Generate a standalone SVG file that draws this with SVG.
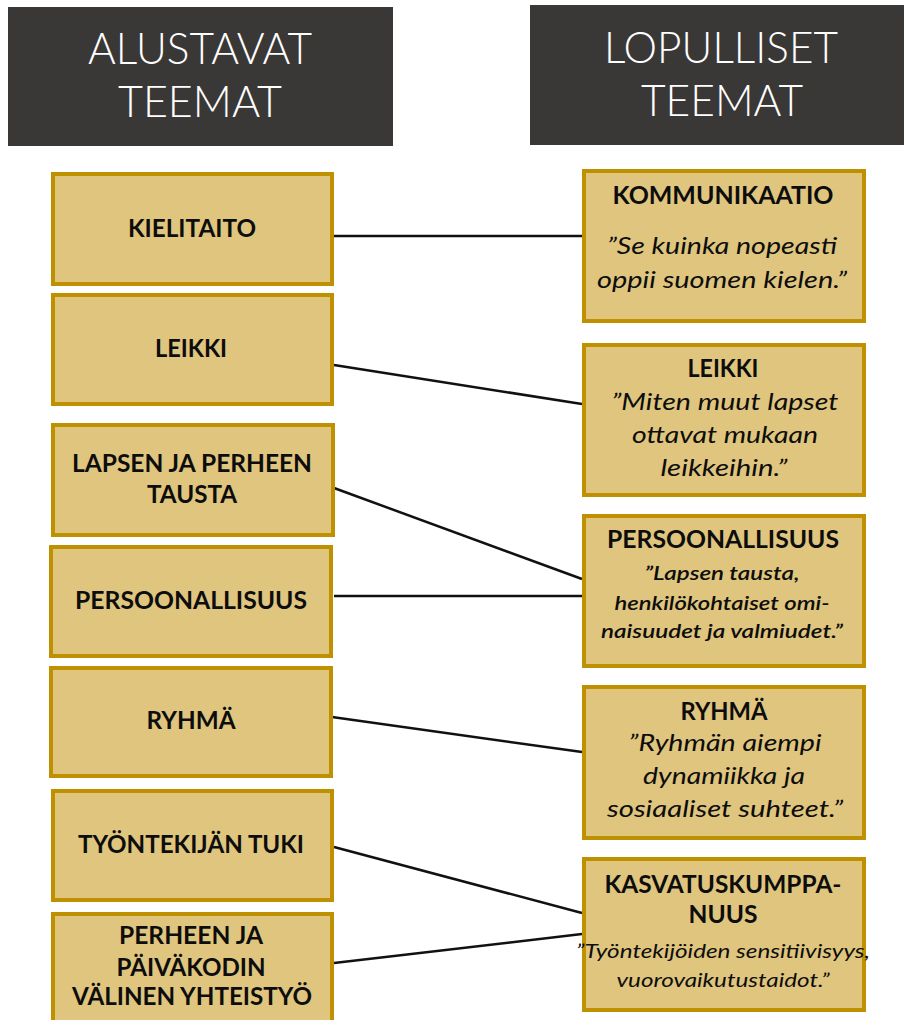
<svg xmlns="http://www.w3.org/2000/svg" width="904" height="1020" viewBox="0 0 904 1020">
<style>
.hdr{fill:#3a3836}
.hdrt{font-family:Lato,"Open Sans",sans-serif;font-weight:300;font-size:44px;fill:#ffffff;text-anchor:middle}
.box{fill:#dfc57e;stroke:#bf9000;stroke-width:4}
.b{font-family:Lato,"Open Sans",sans-serif;font-weight:700;font-size:25px;fill:#0d0d0d;text-anchor:middle}
.i{font-family:Lato,"Open Sans",sans-serif;font-style:italic;font-size:24px;fill:#0d0d0d;text-anchor:middle}
.is{font-family:Lato,"Open Sans",sans-serif;font-style:italic;font-size:20px;fill:#0d0d0d;text-anchor:middle}
.con{stroke:#111;stroke-width:2.5;fill:none}
</style>
<rect width="904" height="1020" fill="#ffffff"/>
<g id="header-left">
<rect class="hdr" x="8" y="7" width="385" height="139"/>
<text class="hdrt" x="200" y="64" textLength="224" lengthAdjust="spacingAndGlyphs">ALUSTAVAT</text>
<text class="hdrt" x="200" y="117" textLength="164" lengthAdjust="spacingAndGlyphs">TEEMAT</text>
</g>
<g id="header-right">
<rect class="hdr" x="530" y="5" width="374" height="140"/>
<text class="hdrt" x="721" y="63" textLength="234" lengthAdjust="spacingAndGlyphs">LOPULLISET</text>
<text class="hdrt" x="722" y="116" textLength="162" lengthAdjust="spacingAndGlyphs">TEEMAT</text>
</g>
<g id="connectors">
<line class="con" x1="334" y1="236" x2="582" y2="236"/>
<line class="con" x1="334" y1="365" x2="582" y2="404"/>
<line class="con" x1="334" y1="488" x2="582" y2="579"/>
<line class="con" x1="334" y1="596" x2="582" y2="596"/>
<line class="con" x1="332" y1="717" x2="582" y2="752"/>
<line class="con" x1="334" y1="847" x2="582" y2="913"/>
<line class="con" x1="334" y1="963" x2="582" y2="934"/>
</g>
<g id="kielitaito">
<rect class="box" x="53" y="174" width="279" height="110"/>
<text class="b" x="192" y="237" textLength="128" lengthAdjust="spacingAndGlyphs">KIELITAITO</text>
</g>
<g id="leikki-left">
<rect class="box" x="53" y="295" width="279" height="109"/>
<text class="b" x="191" y="357" textLength="72" lengthAdjust="spacingAndGlyphs">LEIKKI</text>
</g>
<g id="lapsen-tausta">
<rect class="box" x="53" y="425" width="280" height="110"/>
<text class="b" x="192" y="472" textLength="240" lengthAdjust="spacingAndGlyphs">LAPSEN JA PERHEEN</text>
<text class="b" x="192" y="503" textLength="90" lengthAdjust="spacingAndGlyphs">TAUSTA</text>
</g>
<g id="persoonallisuus-left">
<rect class="box" x="51" y="547" width="280" height="109"/>
<text class="b" x="191" y="609" textLength="232" lengthAdjust="spacingAndGlyphs">PERSOONALLISUUS</text>
</g>
<g id="ryhma-left">
<rect class="box" x="51" y="668" width="280" height="108"/>
<text class="b" x="191" y="729" textLength="89" lengthAdjust="spacingAndGlyphs">RYHMÄ</text>
</g>
<g id="tyontekijan-tuki">
<rect class="box" x="53" y="791" width="279" height="109"/>
<text class="b" x="191" y="853" textLength="226" lengthAdjust="spacingAndGlyphs">TYÖNTEKIJÄN TUKI</text>
</g>
<g id="perheen-paivakodin">
<rect class="box" x="53" y="914" width="279" height="112"/>
<text class="b" x="191" y="944" textLength="144" lengthAdjust="spacingAndGlyphs">PERHEEN JA</text>
<text class="b" x="191" y="976" textLength="149" lengthAdjust="spacingAndGlyphs">PÄIVÄKODIN</text>
<text class="b" x="192" y="1005" textLength="240" lengthAdjust="spacingAndGlyphs">VÄLINEN YHTEISTYÖ</text>
</g>
<g id="kommunikaatio">
<rect class="box" x="584" y="171" width="280" height="150"/>
<text class="b" x="723" y="204" textLength="221" lengthAdjust="spacingAndGlyphs">KOMMUNIKAATIO</text>
<text class="i" x="722" y="254" textLength="230" lengthAdjust="spacingAndGlyphs">”Se kuinka nopeasti</text>
<text class="i" x="722" y="288" textLength="250" lengthAdjust="spacingAndGlyphs">oppii suomen kielen.”</text>
</g>
<g id="leikki-right">
<rect class="box" x="584" y="345" width="280" height="150"/>
<text class="b" x="723" y="377" textLength="71" lengthAdjust="spacingAndGlyphs">LEIKKI</text>
<text class="i" x="725" y="410" textLength="227" lengthAdjust="spacingAndGlyphs">”Miten muut lapset</text>
<text class="i" x="725" y="443" textLength="186" lengthAdjust="spacingAndGlyphs">ottavat mukaan</text>
<text class="i" x="724" y="476" textLength="127" lengthAdjust="spacingAndGlyphs">leikkeihin.”</text>
</g>
<g id="persoonallisuus-right">
<rect class="box" x="584" y="516" width="280" height="150"/>
<text class="b" x="723" y="548" textLength="232" lengthAdjust="spacingAndGlyphs">PERSOONALLISUUS</text>
<text class="is" x="722" y="580" font-weight="600" textLength="155" lengthAdjust="spacingAndGlyphs">”Lapsen tausta,</text>
<text class="is" x="722" y="610" font-weight="600" textLength="215" lengthAdjust="spacingAndGlyphs">henkilökohtaiset omi-</text>
<text class="is" x="722" y="638" font-weight="600" textLength="242" lengthAdjust="spacingAndGlyphs">naisuudet ja valmiudet.”</text>
</g>
<g id="ryhma-right">
<rect class="box" x="584" y="687" width="280" height="151"/>
<text class="b" x="724" y="720" textLength="87" lengthAdjust="spacingAndGlyphs">RYHMÄ</text>
<text class="i" x="725" y="751" font-size="23" textLength="193" lengthAdjust="spacingAndGlyphs">”Ryhmän aiempi</text>
<text class="i" x="724" y="784" font-size="23" textLength="162" lengthAdjust="spacingAndGlyphs">dynamiikka ja</text>
<text class="i" x="725" y="817" font-size="23" textLength="236" lengthAdjust="spacingAndGlyphs">sosiaaliset suhteet.”</text>
</g>
<g id="kasvatuskumppanuus">
<rect class="box" x="584" y="859" width="280" height="151"/>
<text class="b" x="723" y="893" textLength="237" lengthAdjust="spacingAndGlyphs">KASVATUSKUMPPA-</text>
<text class="b" x="723" y="923" textLength="69" lengthAdjust="spacingAndGlyphs">NUUS</text>
<text class="is" x="723" y="958" textLength="294" lengthAdjust="spacingAndGlyphs">”Työntekijöiden sensitiivisyys,</text>
<text class="is" x="723" y="987" textLength="213" lengthAdjust="spacingAndGlyphs">vuorovaikutustaidot.”</text>
</g>
</svg>
